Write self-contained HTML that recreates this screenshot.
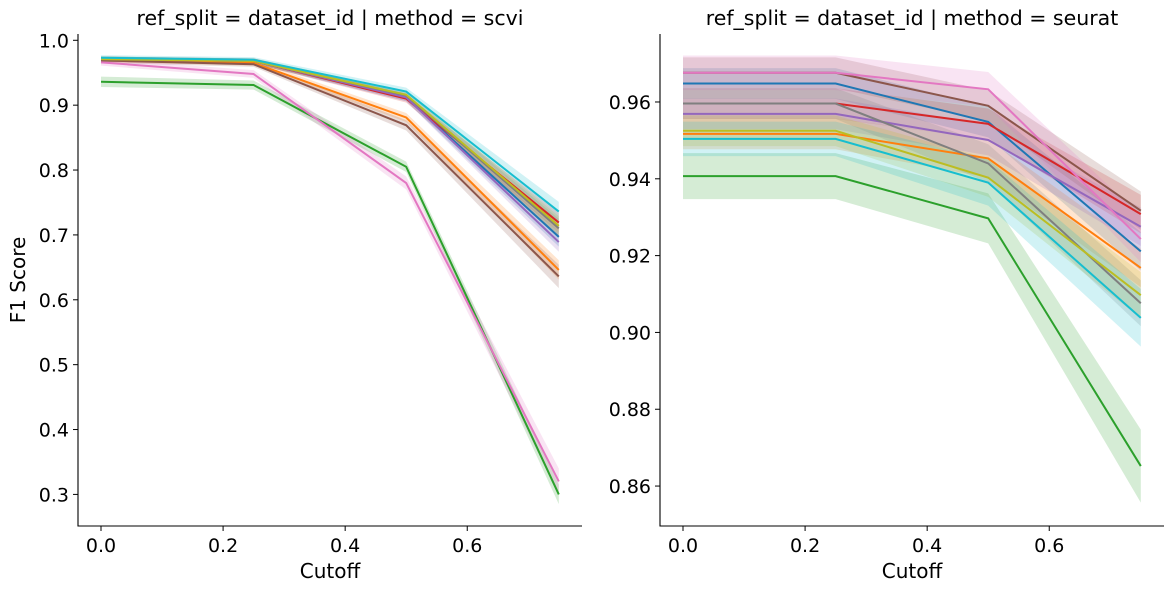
<!DOCTYPE html>
<html><head><meta charset="utf-8"><style>
body{margin:0;background:#fff;}
svg{display:block;font-family:"DejaVu Sans","Liberation Sans",sans-serif;}
</style></head><body>
<svg id="c" width="1174" height="591"></svg>
<script>
const cutoffs=[0,0.25,0.5,0.75];
const seriesNames=["blue","orange","green","red","purple","brown","pink","gray","olive","cyan"];
const colors=["#1f77b4","#ff7f0e","#2ca02c","#d62728","#9467bd","#8c564b","#e377c2","#7f7f7f","#bcbd22","#17becf"];
const scviValues=[
[.971,.968,.912,.697],[.970,.965,.881,.646],[.936,.931,.805,.300],[.971,.968,.910,.719],
[.971,.968,.912,.689],[.969,.963,.869,.636],[.966,.948,.780,.320],[.971,.968,.915,.710],
[.971,.968,.916,.714],[.973,.970,.921,.736]];
const scviCI=[
[.004,.004,.006,.015],[.004,.004,.007,.015],[.008,.007,.008,.015],[.004,.004,.006,.015],
[.004,.004,.006,.015],[.004,.004,.008,.018],[.005,.006,.010,.02],[.004,.004,.006,.015],
[.004,.004,.006,.015],[.004,.004,.006,.015]];
const seuratValues=[
[.9648,.9648,.9548,.9211],[.9517,.9517,.9453,.9168],[.9407,.9407,.9297,.8652],[.9596,.9596,.9543,.9308],
[.9569,.9569,.9501,.9275],[.9676,.9676,.9590,.9317],[.9676,.9676,.9633,.9243],[.9596,.9596,.9440,.9076],
[.9525,.9525,.9403,.9097],[.9504,.9504,.9390,.9038]];
const seuratCI=[
[.004,.004,.004,.005],[.004,.004,.005,.005],[.006,.006,.0065,.0095],[.004,.004,.004,.005],
[.004,.004,.004,.005],[.004,.004,.004,.005],[.0045,.0045,.0045,.006],[.004,.004,.005,.006],
[.004,.004,.005,.006],[.0045,.0045,.006,.0075]];
const xTicks=[0,0.2,0.4,0.6];
const scviYTicks=[0.3,0.4,0.5,0.6,0.7,0.8,0.9,1.0];
const seuratYTicks=[0.86,0.88,0.90,0.92,0.94,0.96];

const svg=document.getElementById('c');
const NS="http://www.w3.org/2000/svg";
function mk(tag,attrs,parent){const e=document.createElementNS(NS,tag);for(const k in attrs)e.setAttribute(k,attrs[k]);(parent||svg).appendChild(e);return e;}

function panel(p){
  const g=mk('g',{});
  
  
  const xs=v=>p.x0+(v-p.xmin)/(p.xmax-p.xmin)*(p.x1-p.x0);
  const ys=v=>p.yb-(v-p.ymin)/(p.ymax-p.ymin)*(p.yb-p.yt);
  p.vals.forEach((s,i)=>{
    let up=cutoffs.map((c,j)=>xs(c)+','+ys(s[j]+p.ci[i][j]));
    let dn=cutoffs.map((c,j)=>xs(c)+','+ys(s[j]-p.ci[i][j])).reverse();
    const b=mk('polygon',{points:up.concat(dn).join(' '),fill:colors[i],'fill-opacity':0.2,stroke:'none'},g);
    
    
  });
  p.vals.forEach((s,i)=>{
    const l=mk('polyline',{points:cutoffs.map((c,j)=>xs(c)+','+ys(s[j])).join(' '),fill:'none',stroke:colors[i],'stroke-width':2},g);
    
    
  });
  const ax=mk('path',{d:`M${p.x0} ${p.yt}V${p.yb}H${p.x1}`,stroke:'#000','stroke-width':1.1,fill:'none'},g);
  
  
  xTicks.forEach(t=>{
    const x=xs(t);
    mk('line',{x1:x,x2:x,y1:p.yb,y2:p.yb+5,stroke:'#000'},g);
    const tx=mk('text',{x:x,y:p.yb+26,'text-anchor':'middle','font-size':19},g);
    tx.textContent=t.toFixed(1);
    
    
  });
  p.yTicks.forEach(t=>{
    const y=ys(t);
    mk('line',{x1:p.x0-5,x2:p.x0,y1:y,y2:y,stroke:'#000'},g);
    const tx=mk('text',{x:p.x0-9,y:y+7,'text-anchor':'end','font-size':19},g);
    tx.textContent=t.toFixed(p.dec);
    
    
  });
  const xl=mk('text',{x:(p.x0+p.x1)/2,y:578,'text-anchor':'middle','font-size':20},g);
  xl.textContent='Cutoff';
  
  
  const ti=mk('text',{x:(p.x0+p.x1)/2,y:25,'text-anchor':'middle','font-size':20.5},g);
  ti.textContent=p.title;
  
  
}
panel({name:'panel-scvi',x0:78,x1:582,yt:34,yb:526,xmin:-0.0377,xmax:0.788,ymin:0.2513,ymax:1.0097,vals:scviValues,ci:scviCI,yTicks:scviYTicks,dec:1,title:'ref_split = dataset_id | method = scvi'});
panel({name:'panel-seurat',x0:660,x1:1164,yt:34,yb:526,xmin:-0.0377,xmax:0.788,ymin:0.8496,ymax:0.9777,vals:seuratValues,ci:seuratCI,yTicks:seuratYTicks,dec:2,title:'ref_split = dataset_id | method = seurat'});
const yl=mk('text',{x:0,y:0,'text-anchor':'middle','font-size':20,transform:'translate(25,280) rotate(-90)'});
yl.textContent='F1 Score';


</script>
</body></html>
